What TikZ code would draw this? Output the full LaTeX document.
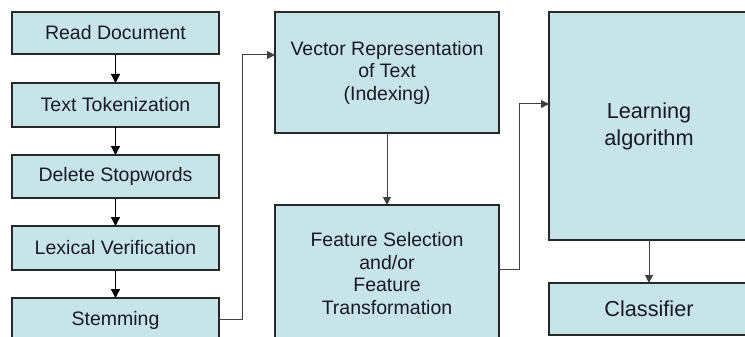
\documentclass[tikz,border=0pt]{standalone}
\usepackage{fontspec}
\setmainfont{Liberation Sans}
\usetikzlibrary{arrows.meta}
\definecolor{boxfill}{RGB}{199,228,232}
\definecolor{boxline}{RGB}{40,40,40}
\definecolor{txt}{RGB}{25,25,40}
\begin{document}
\begin{tikzpicture}[x=1pt,y=-1pt,
  box/.style={draw=boxline,line width=1.1pt,fill=boxfill,rectangle,inner sep=0pt,outer sep=0pt,
    text=txt,align=center,font=\fontsize{19.5}{22.5}\selectfont},
  bigbox/.style={box,font=\fontsize{21.7}{27}\selectfont},
  arr/.style={draw=black!75,line width=1pt,-{Triangle[length=8pt,width=8pt]}},
  darr/.style={draw=black,line width=1.4pt,-{Triangle[length=9pt,width=9pt]}}]
\useasboundingbox (0,0) rectangle (745,337);
\clip (0,0) rectangle (745,337);
\node[box,minimum width=207,minimum height=42] (read) at (115.5,33) {Read Document};
\node[box,minimum width=207,minimum height=44] (tok) at (115.5,105) {Text Tokenization};
\node[box,minimum width=207,minimum height=43] (stop) at (115.5,176.5) {Delete Stopwords};
\node[box,minimum width=207,minimum height=44] (lex) at (115.5,248) {Lexical Verification};
\node[box,minimum width=207,minimum height=44] (stem) at (115.5,320) {Stemming};
\node[box,minimum width=224,minimum height=121] (vec) at (387,72.5) {Vector Representation\\of Text\\(Indexing)};
\node[box,minimum width=224,minimum height=137] (feat) at (387,273.5) {Feature Selection\\and/or\\Feature\\Transformation};
\node[bigbox,minimum width=200,minimum height=228] (learn) at (649,126) {Learning\\algorithm};
\node[bigbox,minimum width=200,minimum height=52] (cls) at (649,309) {Classifier};
\draw[darr] (read) -- (tok);
\draw[darr] (tok) -- (stop);
\draw[darr] (stop) -- (lex);
\draw[darr] (lex) -- (stem);
\draw[arr] (vec) -- (feat);
\draw[arr] (learn) -- (cls);
\coordinate (s1) at (242,319);
\coordinate (s2) at (242,55);
\draw[arr] (stem.east |- s1) -- (s1) -- (s2) -- (vec.west |- s2);
\coordinate (f1) at (519,269);
\coordinate (f2) at (519,104);
\draw[arr] (feat.east |- f1) -- (f1) -- (f2) -- (learn.west |- f2);
\end{tikzpicture}
\end{document}
